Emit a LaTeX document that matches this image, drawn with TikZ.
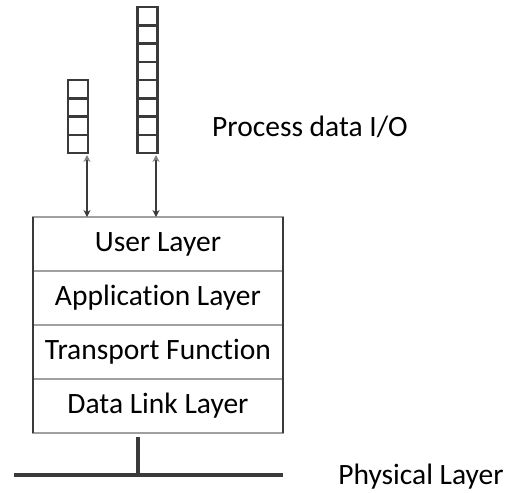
\documentclass[tikz,border=0pt]{standalone}
\usepackage{fontspec}
\setmainfont{Carlito}[Ligatures=NoCommon]
\usetikzlibrary{arrows.meta}
\definecolor{dk}{HTML}{3A3A3A}
\definecolor{sep}{HTML}{A0A0A0}
\begin{document}
\begin{tikzpicture}[x=1pt,y=-1pt,
  lbl/.style={font=\fontsize{29.5}{33}\selectfont, text=black, inner sep=0pt},
  layer/.style={draw=sep, line width=2.6pt, minimum width=250pt, minimum height=54pt, inner sep=0pt, outer sep=0pt, font=\fontsize{29.5}{33}\selectfont},
  qbox/.style={draw=dk, line width=2.5pt, minimum width=20pt, inner sep=0pt, outer sep=0pt},
  io/.style={draw=dk, line width=2.2pt, {Stealth[length=7pt,width=7pt,color=gray]}-{Stealth[length=7pt,width=7pt]}},
  wire/.style={draw=dk, line width=3.2pt}
]
\useasboundingbox (0,0) rectangle (507,493);
% queues
\node[qbox, minimum height=73pt] (q1) at (78,116.5) {};
\foreach \i in {1,2,3} \draw[dk, line width=2.5pt] (q1.north west) ++(0,18.25*\i) -- ++(20,0);
\node[qbox, minimum height=146pt] (q2) at (147.5,80) {};
\foreach \i in {1,...,7} \draw[dk, line width=2.5pt] (q2.north west) ++(0,18.25*\i) -- ++(21,0);
% layers
\node[layer] (user) at (158,244) {User Layer};
\node[layer] (app) at (158,298) {Application Layer};
\node[layer] (trans) at (158,352) {Transport Function};
\node[layer] (dll) at (158,406) {Data Link Layer};
\draw[dk, line width=2.6pt] (user.north west) -- (dll.south west);
\draw[dk, line width=2.6pt] (user.north east) -- (dll.south east);
% arrows
\coordinate (a1) at (87,155);
\coordinate (a2) at (156,155);
\draw[io] (a1) -- (a1 |- user.north);
\draw[io] (a2) -- (a2 |- user.north);
% physical bus
\coordinate (bl) at (14,475);
\coordinate (br) at (283,475);
\coordinate (st) at (138,437);
\draw[wire] (bl) -- (br);
\draw[wire] (st) -- (st |- bl);
% labels
\node[lbl] (pio) at (310,127) {Process data I/O};
\node[lbl] (phy) at (421,477) {Physical Layer};
\end{tikzpicture}
\end{document}
